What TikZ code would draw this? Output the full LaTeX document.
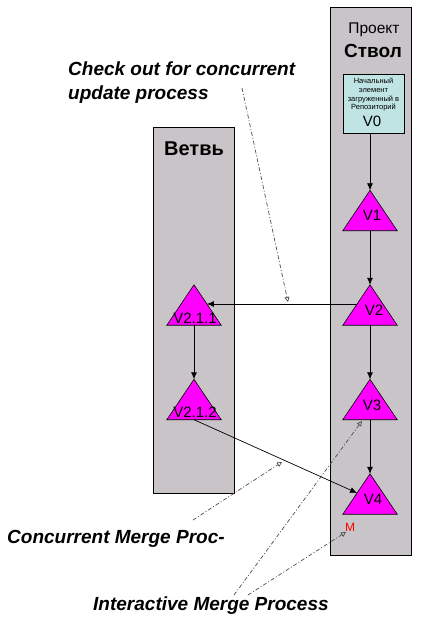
\documentclass[tikz,border=0pt]{standalone}
\usepackage{fontspec}
\setmainfont{Liberation Sans}
\usetikzlibrary{arrows.meta,calc}
\definecolor{lanebg}{RGB}{200,196,200}
\definecolor{boxbg}{RGB}{192,228,228}
\definecolor{trimag}{RGB}{255,0,255}
\tikzset{
  lane/.style={draw=black, fill=lanebg, line width=0.8pt},
  tribox/.style={rectangle, draw=none, minimum width=54pt, minimum height=40pt, inner sep=0pt},
  trifill/.style={fill=trimag, draw=black, line width=0.6pt},
  vlab/.style={font=\fontsize{15}{15}\selectfont, inner sep=0pt},
  flow/.style={draw=black, line width=0.7pt, -{Latex[length=7pt,width=6pt]}},
  note/.style={draw=black!70, line width=0.7pt, dash pattern=on 4pt off 2pt on 1pt off 2pt, -{Triangle[open,length=5pt,width=5pt]}},
  bigtext/.style={font=\fontsize{19}{24}\selectfont\bfseries\itshape, inner sep=0pt, anchor=base west},
}
\newcommand\vtri[3]{%
  \node[tribox] (#1) at (#2,#3) {};
  \path[trifill] (#1.north) -- (#1.south west) -- (#1.south east) -- cycle;}
\begin{document}
\begin{tikzpicture}[x=1pt,y=-1pt]
\useasboundingbox (0,0) rectangle (430,618);
% lanes
\node[lane, minimum width=81pt, minimum height=548pt, inner sep=0pt] (trunk) at (370.5,281) {};
\node[lane, minimum width=81pt, minimum height=366pt, inner sep=0pt] (branch) at (193.5,310.5) {};
\node[font=\fontsize{15.5}{15.5}\selectfont, anchor=base, inner sep=0pt] (proj) at (374,34) {Проект};
\node[font=\fontsize{19}{19}\selectfont\bfseries, anchor=base, inner sep=0pt] (stvol) at (373,57) {Ствол};
\node[font=\fontsize{20}{20}\selectfont\bfseries, anchor=base, inner sep=0pt] (vetv) at (194,155) {Ветвь};
% V0 box
\node[draw=black, fill=boxbg, line width=0.6pt, minimum width=61pt, minimum height=59pt, inner sep=0pt] (V0) at (373.5,103.5) {};
\node[font=\fontsize{7.5}{8.7}\selectfont, align=center, inner sep=0pt, anchor=north] (V0t) at (373.5,78) {Начальный\\элемент\\загруженный в\\Репозиторий};
\node[vlab, anchor=base] (V0l) at (372,126) {V0};
% triangles
\vtri{V1}{370}{210.5}
\vtri{V2}{370}{305}
\vtri{V3}{370}{399.5}
\vtri{V4}{370}{494}
\vtri{V211}{194}{305}
\vtri{V212}{194}{399.5}
\node[vlab] (V1l) at (372,215) {V1};
\node[vlab] (V2l) at (374,310) {V2};
\node[vlab] (V3l) at (372,405) {V3};
\node[vlab] (V4l) at (373,499) {V4};
\node[vlab] (V211l) at (195,318) {V2.1.1};
\node[vlab] (V212l) at (195,412) {V2.1.2};
\node[font=\fontsize{12}{12}\selectfont, text=red, inner sep=0pt] (M) at (350,527) {M};
% flows
\draw[flow] (V1.north |- V0.south) -- (V1.north);
\draw[flow] (V1.south) -- (V2.north);
\draw[flow] (V2.south) -- (V3.north);
\draw[flow] (V3.south) -- (V4.north);
\draw[flow] (V211.south) -- (V212.north);
\draw[flow] ($(V2.north)!0.475!(V2.south west)$) -- ($(V211.north)!0.475!(V211.south east)$);
\draw[flow] (V212.south) -- ($(V4.north)!0.475!(V4.south west)$);
% texts
\node[bigtext] (chk1) at (68,75) {Check out for concurrent};
\node[bigtext] (chk2) at (68,99) {update process};
\node[bigtext] (conc) at (7,543) {Concurrent Merge Proc-};
\node[bigtext] (inter) at (93,610) {Interactive Merge Process};
% note connectors
\coordinate (c1s) at (242,88);
\coordinate (c1e) at (288,302);
\coordinate (c2s) at (193,520);
\coordinate (c2e) at (282,462);
\coordinate (c3s) at (234,595);
\coordinate (c3e) at (362,421);
\coordinate (c4s) at (248,595);
\coordinate (c4e) at (346,532);
\draw[note] (c1s) -- (c1e);
\draw[note] (c2s) -- (c2e);
\draw[note] (c3s) -- (c3e);
\draw[note] (c4s) -- (c4e);
\end{tikzpicture}
\end{document}
